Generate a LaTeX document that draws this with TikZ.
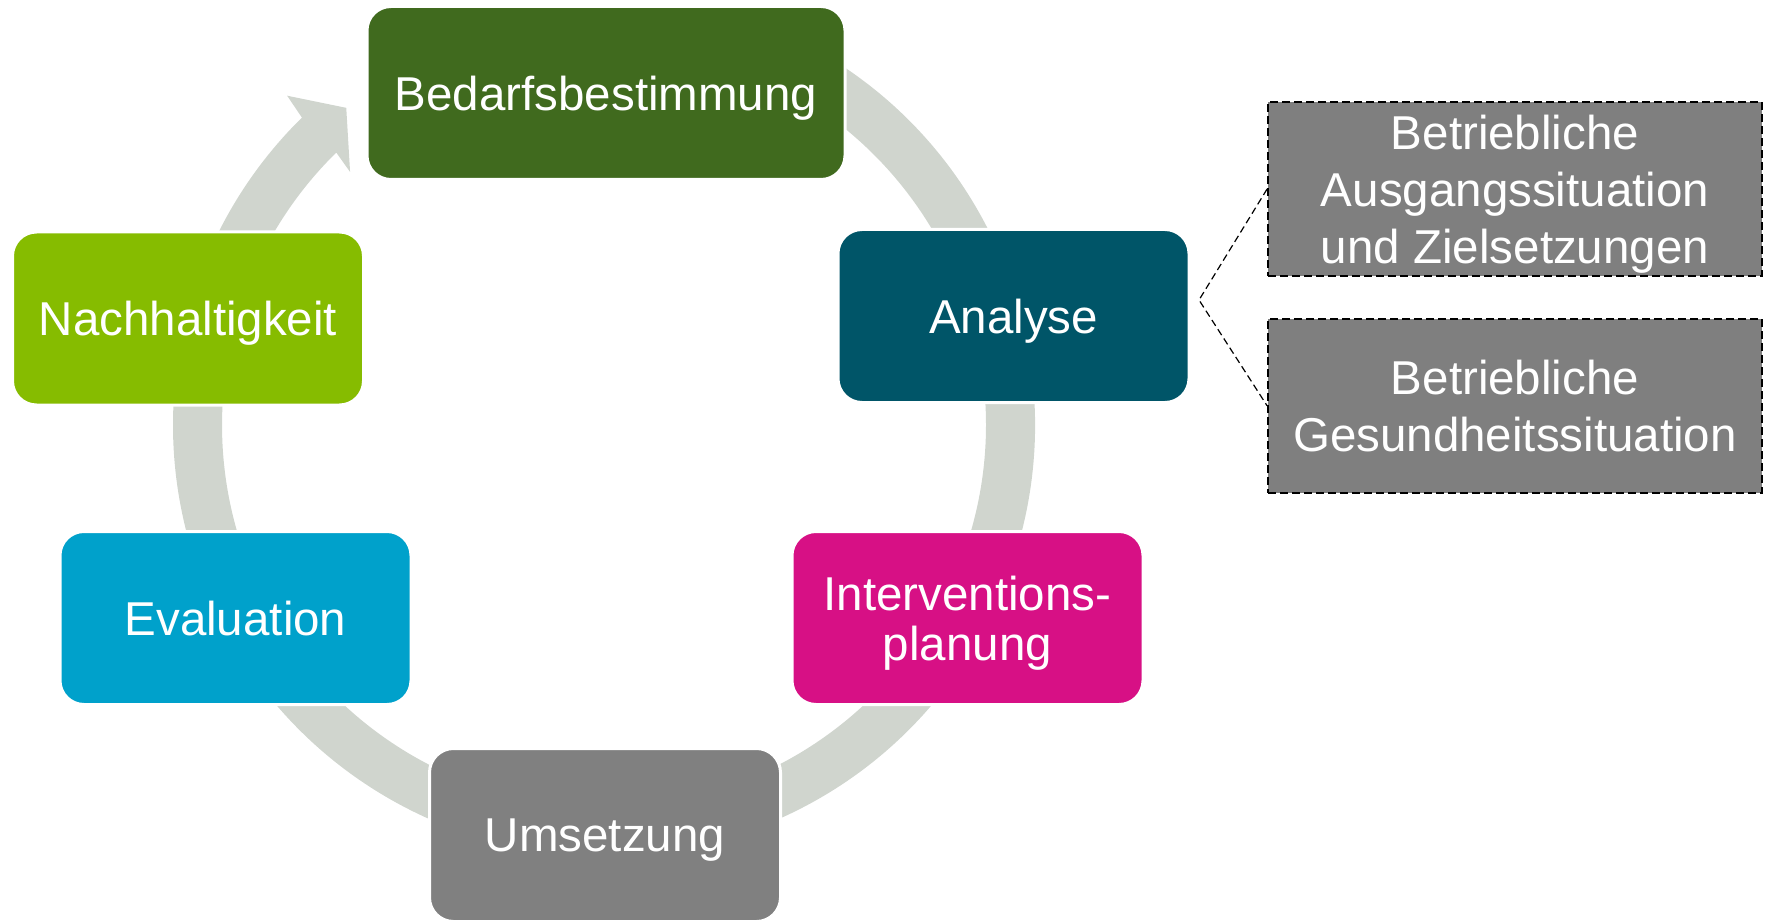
\documentclass[tikz,border=0pt]{standalone}
\usepackage{fontspec}
\setmainfont{Liberation Sans}
\usetikzlibrary{positioning}

\definecolor{bedarfgreen}{RGB}{64,106,30}
\definecolor{nachgreen}{RGB}{134,188,0}
\definecolor{analyseblue}{RGB}{0,85,104}
\definecolor{intervpink}{RGB}{215,16,133}
\definecolor{evalblue}{RGB}{0,161,203}
\definecolor{umsetzgray}{RGB}{128,128,128}
\definecolor{detailgray}{RGB}{127,127,127}
\definecolor{ringgray}{RGB}{208,213,206}

\begin{document}
\begin{tikzpicture}[
					x=0.5pt, y=0.5pt,
					phase/.style={rounded corners=12pt, draw=white, line width=1.5pt, text=white,
						align=center, inner sep=0pt, text depth=0pt, minimum width=175.5pt, minimum height=86.5pt,
						font=\fontsize{23.75}{28.5}\selectfont},
					detail/.style={fill=detailgray, draw=black, line width=0.9pt, dash pattern=on 4pt off 2pt,
						text=white, align=center, inner sep=0pt, text depth=0pt, minimum width=247pt, minimum height=87pt,
						font=\fontsize{23.75}{28.5}\selectfont},
					link/.style={draw=black, line width=0.6pt, dash pattern=on 3.5pt off 2pt}
					]
					\useasboundingbox (0,0) rectangle (1780,922);
					% cycle ring with arrow head
					\begin{scope}[shift={(604,497)}]
						\fill[ringgray] (60:431) arc[start angle=60, end angle=-225.5, radius=431]
							-- (-226.1:457) -- (-230.9:408.7) -- (-224.9:358.5)
							-- (-225.5:382) arc[start angle=-225.5, end angle=60, radius=382] -- cycle;
					\end{scope}
					\node[phase, fill=bedarfgreen, minimum width=239pt] (bedarf) at (606,829) {Bedarfsbestimmung};
					\node[phase, fill=analyseblue] (analyse) at (1013.5,606) {Analyse};
					\node[phase, fill=intervpink, font=\fontsize{23.75}{25}\selectfont] (interv) at (967.5,304) {Interventions-\\planung};
					\node[phase, fill=umsetzgray] (umsetz) at (605,87) {Umsetzung};
					\node[phase, fill=evalblue] (eval) at (235.5,304) {Evaluation};
					\node[phase, fill=nachgreen] (nach) at (188,603.5) {Nachhaltigkeit};
					% details of the analysis
					\node[detail] (sit1) at (1515,733) {Betriebliche\\Ausgangssituation\\und Zielsetzungen};
					\node[detail, below=20.5pt of sit1] (sit2) {Betriebliche\\Gesundheitssituation};
					\coordinate (fork) at (1199,622);
					\draw[link] (sit1.west) -- (fork) -- (sit2.west);
				\end{tikzpicture}
\end{document}
